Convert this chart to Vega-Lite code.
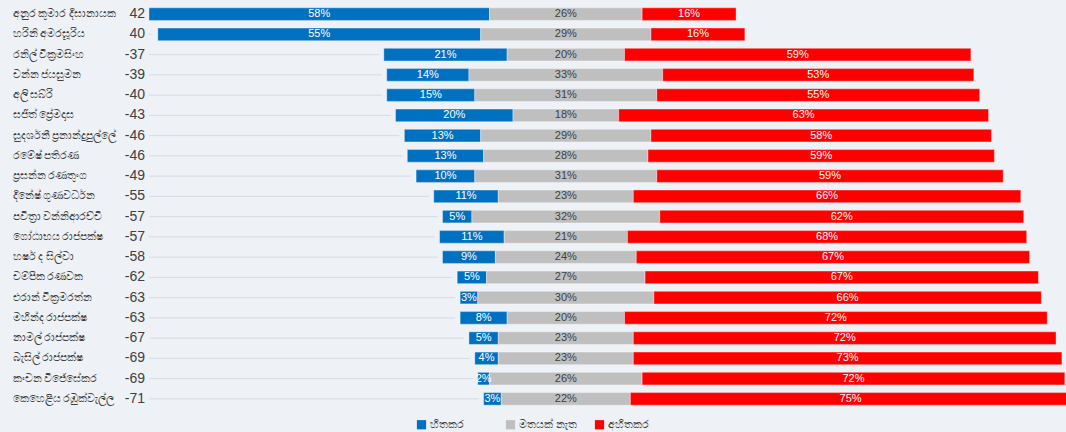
{
  "$schema": "https://vega.github.io/schema/vega-lite/v6.json",
  "width": 917,
  "height": 405,
  "autosize": {"type": "none"},
  "padding": {"left": 149, "top": 4, "right": 0, "bottom": 23},
  "background": "#eef2f6",
  "config": {"view": {"stroke": null}, "font": "Liberation Sans"},
  "data": {"values": [
    {"name": "අනුර කුමාර දිසානායක", "score": 42, "pos": 58, "neu": 26, "neg": 16},
    {"name": "හරිනි අමරසූරිය", "score": 40, "pos": 55, "neu": 29, "neg": 16},
    {"name": "රනිල් වික්‍රමසිංහ", "score": -37, "pos": 21, "neu": 20, "neg": 59},
    {"name": "චන්න ජයසුමන", "score": -39, "pos": 14, "neu": 33, "neg": 53},
    {"name": "අලි සබ්රි", "score": -40, "pos": 15, "neu": 31, "neg": 55},
    {"name": "සජිත් ප්‍රේමදාස", "score": -43, "pos": 20, "neu": 18, "neg": 63},
    {"name": "සුදර්ශනී ප්‍රනාන්දුපුල්ලේ", "score": -46, "pos": 13, "neu": 29, "neg": 58},
    {"name": "රමේෂ් පතිරණ", "score": -46, "pos": 13, "neu": 28, "neg": 59},
    {"name": "ප්‍රසන්න රණතුංග", "score": -49, "pos": 10, "neu": 31, "neg": 59},
    {"name": "දිනේෂ් ගුණවර්ධන", "score": -55, "pos": 11, "neu": 23, "neg": 66},
    {"name": "පවිත්‍රා වන්නිආරච්චි", "score": -57, "pos": 5, "neu": 32, "neg": 62},
    {"name": "ගෝඨාභය රාජපක්ෂ", "score": -57, "pos": 11, "neu": 21, "neg": 68},
    {"name": "හර්ෂ ද සිල්වා", "score": -58, "pos": 9, "neu": 24, "neg": 67},
    {"name": "චම්පික රණවක", "score": -62, "pos": 5, "neu": 27, "neg": 67},
    {"name": "එරාන් වික්‍රමරත්න", "score": -63, "pos": 3, "neu": 30, "neg": 66},
    {"name": "මහින්ද රාජපක්ෂ", "score": -63, "pos": 8, "neu": 20, "neg": 72},
    {"name": "නාමල් රාජපක්ෂ", "score": -67, "pos": 5, "neu": 23, "neg": 72},
    {"name": "බැසිල් රාජපක්ෂ", "score": -69, "pos": 4, "neu": 23, "neg": 73},
    {"name": "කංචන විජේසේකර", "score": -69, "pos": 2, "neu": 26, "neg": 72},
    {"name": "කෙහෙළිය රඹුක්වැල්ල", "score": -71, "pos": 3, "neu": 22, "neg": 75}
  ]},
  "transform": [
    {"window": [{"op": "row_number", "as": "rank"}]},
    {"calculate": "-(datum.neu/2 + datum.pos)", "as": "start"},
    {"calculate": "-71", "as": "left"},
    {"calculate": "'' + datum.score", "as": "scoreLabel"}
  ],
  "layer": [
    {
      "transform": [{"filter": "datum.start > -70.5"}],
      "mark": {"type": "rule", "color": "#d6dbe0", "strokeWidth": 1, "x2Offset": -5},
      "encoding": {
        "y": {
          "field": "name", "type": "nominal",
          "sort": {"field": "rank", "op": "min", "order": "ascending"},
          "scale": {"paddingInner": 0.38, "paddingOuter": 0.19},
          "axis": {
            "title": null, "domain": false, "ticks": false, "tickSize": 0,
            "labelAlign": "left", "labelPadding": 137, "labelFontSize": 11,
            "labelColor": "#404040", "labelFont": "Noto Sans"
          }
        },
        "x": {"field": "left", "type": "quantitative", "scale": {"domain": [-71, 85.2], "nice": false, "zero": false}, "axis": null},
        "x2": {"field": "start"}
      }
    },
    {
      "transform": [
        {"fold": ["pos", "neu", "neg"], "as": ["key", "value"]},
        {"calculate": "datum.key == 'pos' ? -(datum.neu/2 + datum.pos) : datum.key == 'neu' ? -datum.neu/2 : datum.neu/2", "as": "x0"},
        {"calculate": "datum.key == 'pos' ? -datum.neu/2 : datum.key == 'neu' ? datum.neu/2 : datum.neu/2 + datum.neg", "as": "x1"},
        {"calculate": "datum.key == 'pos' ? 'හිතකර' : datum.key == 'neu' ? 'මතයක් නැත' : 'අහිතකර'", "as": "cat"},
        {"calculate": "(datum.x0 + datum.x1)/2", "as": "mid"},
        {"calculate": "datum.value + '%'", "as": "pct"}
      ],
      "layer": [
        {
          "mark": {"type": "bar", "clip": true, "stroke": "#ffffff", "strokeOpacity": 0.35, "strokeWidth": 1},
          "encoding": {
            "y": {"field": "name", "type": "nominal", "sort": {"field": "rank", "op": "min", "order": "ascending"}},
            "x": {"field": "x0", "type": "quantitative"},
            "x2": {"field": "x1"},
            "color": {
              "field": "cat", "type": "nominal",
              "scale": {"domain": ["හිතකර", "මතයක් නැත", "අහිතකර"], "range": ["#0070c0", "#bfbfbf", "#ff0000"]},
              "legend": {
                "title": null, "orient": "none", "direction": "horizontal",
                "legendX": 267, "legendY": 415, "gridAlign": "all",
                "symbolType": "square", "symbolSize": 85, "symbolStrokeWidth": 0,
                "labelFontSize": 11, "labelColor": "#404040", "labelFont": "Noto Sans",
                "columnPadding": 17, "labelOffset": 3
              }
            }
          }
        },
        {
          "transform": [{"filter": "datum.key != 'neu'"}],
          "mark": {"type": "text", "fontSize": 11, "color": "#ffffff", "baseline": "middle"},
          "encoding": {
            "y": {"field": "name", "type": "nominal", "sort": {"field": "rank", "op": "min", "order": "ascending"}},
            "x": {"field": "mid", "type": "quantitative"},
            "text": {"field": "pct", "type": "nominal"}
          }
        },
        {
          "transform": [{"filter": "datum.key == 'neu'"}],
          "mark": {"type": "text", "fontSize": 11, "color": "#404040", "baseline": "middle"},
          "encoding": {
            "y": {"field": "name", "type": "nominal", "sort": {"field": "rank", "op": "min", "order": "ascending"}},
            "x": {"field": "mid", "type": "quantitative"},
            "text": {"field": "pct", "type": "nominal"}
          }
        }
      ]
    },
    {
      "mark": {"type": "text", "align": "right", "dx": -4, "fontSize": 14, "color": "#404040", "baseline": "middle"},
      "encoding": {
        "y": {"field": "name", "type": "nominal", "sort": {"field": "rank", "op": "min", "order": "ascending"}},
        "x": {"field": "left", "type": "quantitative"},
        "text": {"field": "scoreLabel", "type": "nominal"}
      }
    }
  ]
}
